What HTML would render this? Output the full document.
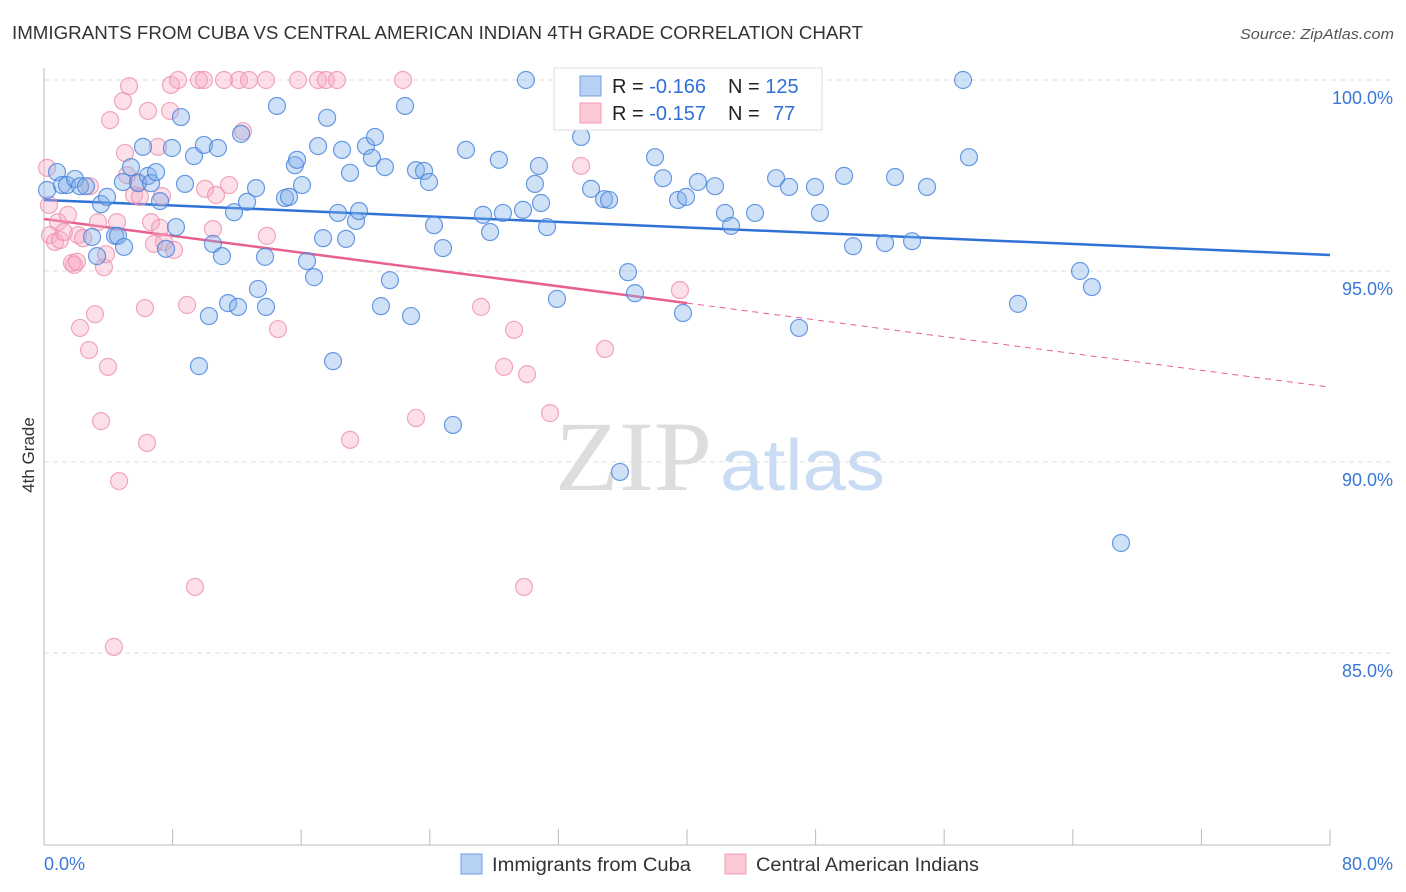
<!DOCTYPE html>
<html><head><meta charset="utf-8"><style>
body{margin:0;background:#fff;font-family:"Liberation Sans",sans-serif;}
svg{display:block}
</style></head><body>
<svg id="chart" width="1406" height="892">
<text x="12" y="39" font-size="18" fill="#333" textLength="851" lengthAdjust="spacingAndGlyphs">IMMIGRANTS FROM CUBA VS CENTRAL AMERICAN INDIAN 4TH GRADE CORRELATION CHART</text>
<text x="1394" y="39" font-size="15" fill="#555" font-style="italic" text-anchor="end" textLength="154" lengthAdjust="spacingAndGlyphs">Source: ZipAtlas.com</text>
<text transform="translate(34,455) rotate(-90)" font-size="17" fill="#333" text-anchor="middle">4th Grade</text>
<g>
<text x="555" y="490" font-size="100" font-family="Liberation Serif,serif" fill="#ddd" textLength="157" lengthAdjust="spacingAndGlyphs">ZIP</text>
<text x="720" y="490" font-size="72" fill="#c9dcf3" textLength="165" lengthAdjust="spacingAndGlyphs">atlas</text>
</g>
<g id="grid"></g><g id="axes"></g><g id="lines"></g><g id="pts"></g>
<g>
<rect x="554" y="68" width="268" height="62" fill="#fff" stroke="#ddd"/>
<rect x="580" y="76" width="21" height="20" fill="#b8d2f5" stroke="#6f9de0"/>
<rect x="580" y="103" width="21" height="20" fill="#fbc8d6" stroke="#f09ab4"/>
<text x="612" y="93" font-size="20" fill="#222">R = <tspan fill="#2f6fd6">-0.166</tspan><tspan x="728">N = </tspan><tspan fill="#2f6fd6">125</tspan></text>
<text x="612" y="120" font-size="20" fill="#222">R = <tspan fill="#2f6fd6">-0.157</tspan><tspan x="728">N = </tspan><tspan fill="#2f6fd6" x="773">77</tspan></text>
</g>
<g>
<rect x="461" y="854" width="21" height="20" fill="#b8d2f5" stroke="#6f9de0"/>
<text x="492" y="871" font-size="19" fill="#333" textLength="199" lengthAdjust="spacingAndGlyphs">Immigrants from Cuba</text>
<rect x="725" y="854" width="21" height="20" fill="#fbc8d6" stroke="#f09ab4"/>
<text x="756" y="871" font-size="19" fill="#333" textLength="223" lengthAdjust="spacingAndGlyphs">Central American Indians</text>
</g>
</svg>
<script>
const blueX=[0.19,0.81,1.12,1.43,1.93,2.24,2.61,2.99,3.30,3.55,3.92,4.42,4.60,4.98,4.91,5.41,5.85,6.16,6.47,6.66,6.97,7.22,7.59,7.96,8.21,8.52,8.77,9.33,9.64,9.95,10.26,10.51,10.82,11.07,11.45,11.82,12.07,12.26,12.63,13.19,13.31,13.75,13.81,14.49,14.99,15.24,15.61,15.74,16.05,16.36,16.80,17.05,17.36,17.61,17.98,18.29,18.54,18.79,19.04,19.41,19.60,20.03,20.40,20.59,20.96,21.21,21.52,22.46,22.83,23.14,23.64,23.95,24.26,24.82,25.44,26.25,27.31,27.75,28.30,28.55,29.80,29.98,30.54,30.79,30.92,31.29,31.91,33.41,34.03,34.84,35.15,35.83,36.33,36.76,38.01,38.51,39.44,39.75,39.94,40.68,41.74,42.36,42.74,44.23,45.54,46.35,46.97,47.96,48.27,49.77,50.33,52.32,52.94,54.00,54.93,57.17,57.54,60.59,64.45,65.19,67.00];
const blueY=[97.12,97.59,97.25,97.25,97.41,97.22,97.22,95.89,95.39,96.75,96.94,95.92,95.92,95.63,97.33,97.72,97.30,98.25,97.49,97.30,97.59,96.83,95.58,98.22,96.15,99.03,97.28,98.01,92.51,98.30,93.82,95.71,98.22,95.39,94.16,96.54,94.06,98.59,96.81,97.17,94.53,95.37,94.06,99.32,96.91,96.94,97.77,97.91,97.25,95.26,94.84,98.27,95.86,99.01,92.64,96.52,98.17,95.84,97.57,96.31,96.57,98.27,97.96,98.51,94.08,97.72,94.76,99.32,93.82,97.64,97.62,97.33,96.20,95.60,90.97,98.17,96.47,96.02,97.91,96.52,96.60,100.0,97.28,97.75,96.78,96.15,94.27,98.51,97.15,96.88,96.86,89.74,94.97,94.42,97.98,97.43,96.86,93.90,96.94,97.33,97.22,96.52,96.18,96.52,97.43,97.20,93.51,97.20,96.52,97.49,95.65,95.73,97.46,95.78,97.20,100.0,97.98,94.14,95.00,94.58,87.88];
const pinkX=[0.19,0.31,0.37,0.68,0.87,1.0,1.24,1.49,1.74,1.87,2.05,2.12,2.24,2.43,2.80,2.86,3.17,3.36,3.55,3.73,3.86,3.98,4.11,4.35,4.54,4.67,4.91,5.04,5.16,5.29,5.60,5.85,5.97,6.28,6.41,6.47,6.66,6.84,7.09,7.22,7.34,7.47,7.84,7.90,8.09,8.34,8.90,9.39,9.64,9.95,10.02,10.51,10.70,11.20,11.51,12.13,12.38,12.75,13.81,13.87,14.56,15.80,17.05,17.54,18.23,19.04,22.33,23.14,27.19,28.62,29.24,30.05,29.86,31.48,33.41,34.90,39.56];
const pinkY=[97.70,96.73,95.94,95.76,96.28,95.81,96.02,96.47,95.21,95.16,95.24,95.94,93.51,95.86,92.93,97.22,93.87,96.28,91.07,95.10,95.44,92.49,98.95,85.16,96.28,89.50,99.45,98.09,97.51,99.84,96.99,97.33,96.94,94.03,90.50,99.19,96.28,95.71,98.25,96.13,96.96,95.76,99.19,99.87,95.55,100,94.11,86.73,100,100,97.15,96.10,96.99,100,97.25,100,98.66,100,100,95.92,93.48,100,100,100,100,90.58,100,91.15,94.06,92.49,93.46,92.30,86.73,91.28,97.75,92.96,94.50];
const blueTrend=[96.86,95.42];
const pinkTrend=[96.36,91.96];
const pinkSolidEnd=40;
const yTicks=[100,95,90,85];
const xTickCount=10;
const X0=44,X1=1330,XMAX=80;
const sx=v=>X0+(X1-X0)*v/XMAX;
const sy=v=>80+(100-v)*38.2;
const NS='http://www.w3.org/2000/svg';
function mk(t,a,p){const e=document.createElementNS(NS,t);for(const k in a)e.setAttribute(k,a[k]);p.appendChild(e);return e;}
const grid=document.getElementById('grid'),axes=document.getElementById('axes'),lines=document.getElementById('lines'),pts=document.getElementById('pts');
yTicks.forEach(v=>{
 const l=mk('line',{x1:X0,x2:1392,y1:sy(v),y2:sy(v),stroke:'#ddd','stroke-dasharray':'5,4'},grid);
 
 
 const t=mk('text',{x:1393,y:sy(v)+24,'font-size':18,fill:'#3a78d8','text-anchor':'end'},axes);
 t.textContent=v.toFixed(1)+'%';
 
 
});
const ya=mk('line',{x1:X0,x2:X0,y1:68,y2:845,stroke:'#bbb'},axes);


const xa=mk('line',{x1:X0,x2:X1,y1:845,y2:845,stroke:'#bbb'},axes);


for(let i=0;i<=xTickCount;i++){
 const x=sx(XMAX*i/xTickCount);
 const tk=mk('line',{x1:x,x2:x,y1:829,y2:845,stroke:'#bbb'},axes);
 
 
}
const xl0=mk('text',{x:44,y:870,'font-size':18,fill:'#3a78d8'},axes);xl0.textContent='0.0%';


const xl1=mk('text',{x:1393,y:870,'font-size':18,fill:'#3a78d8','text-anchor':'end'},axes);xl1.textContent='80.0%';


function dot(x,y,c,s,name){const e=mk('circle',{cx:sx(x),cy:sy(y),r:8.5,fill:c,stroke:s,'stroke-width':1.2},pts);
 
 }
pinkX.forEach((x,i)=>dot(x,pinkY[i],'rgba(246,170,195,0.38)','rgba(236,140,170,0.75)','pink-point'));
blueX.forEach((x,i)=>dot(x,blueY[i],'rgba(130,175,235,0.38)','rgba(70,130,220,0.8)','blue-point'));
const bt=mk('line',{x1:sx(0),y1:sy(blueTrend[0]),x2:sx(80),y2:sy(blueTrend[1]),stroke:'#2f72d6','stroke-width':2.5},lines);


const pe=pinkTrend[0]+(pinkTrend[1]-pinkTrend[0])*pinkSolidEnd/80;
const pt=mk('line',{x1:sx(0),y1:sy(pinkTrend[0]),x2:sx(pinkSolidEnd),y2:sy(pe),stroke:'#e8608e','stroke-width':2.5},lines);


const pd=mk('line',{x1:sx(pinkSolidEnd),y1:sy(pe),x2:sx(80),y2:sy(pinkTrend[1]),stroke:'#e8608e','stroke-width':1,'stroke-dasharray':'6,5'},lines);


</script>
</body></html>
